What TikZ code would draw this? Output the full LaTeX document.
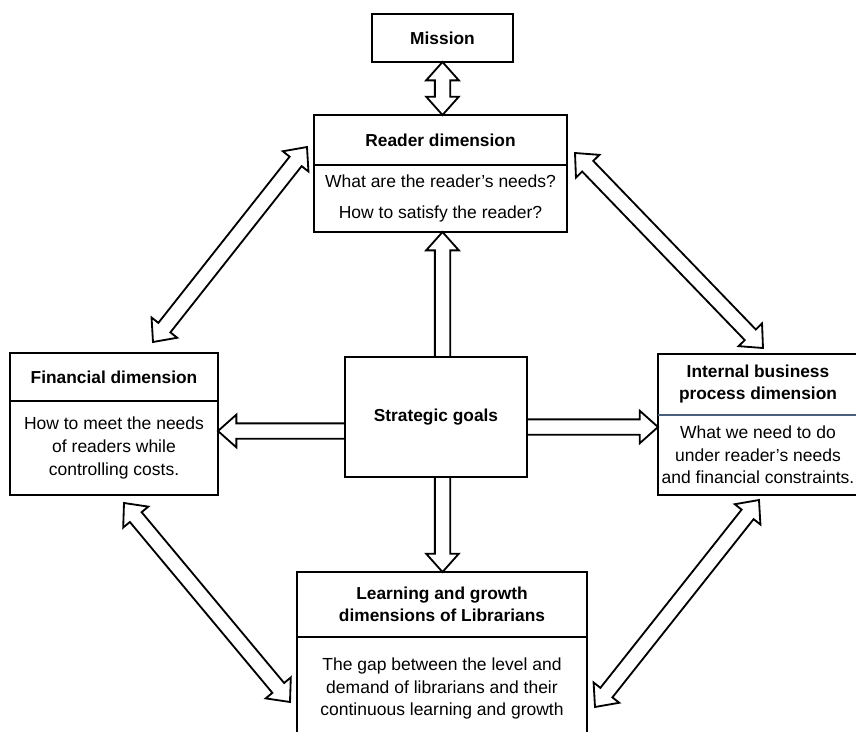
\documentclass[tikz,border=0pt]{standalone}
\usepackage{fontspec}
\setmainfont{Liberation Sans}
\usetikzlibrary{positioning,calc}
\definecolor{divblue}{RGB}{72,96,124}

\begin{document}
\begin{tikzpicture}[x=0.6pt, y=-0.6pt,
  box/.style={draw, line width=1.1pt, inner sep=0pt, outer sep=0pt, align=center,
    font=\fontsize{10.5}{13.6}\selectfont},
  headbox/.style={box, font=\bfseries\fontsize{10.4}{13.2}\selectfont},
  sglarrow/.style={draw, fill=white, line width=1.1pt, line join=miter,
    to path={let \p1=(\tikztostart), \p2=(\tikztotarget),
      \n1={atan2(\y2-\y1,\x2-\x1)}, \n2={veclen(\x2-\x1,\y2-\y1)}, \n3={\n2-11} in
      ([shift={(\p1)},rotate=\n1]0pt,4.6pt)
      -- ([shift={(\p1)},rotate=\n1]\n3*1pt,4.6pt)
      -- ([shift={(\p1)},rotate=\n1]\n3*1pt,9.8pt)
      -- ([shift={(\p1)},rotate=\n1]\n2*1pt,0pt)
      -- ([shift={(\p1)},rotate=\n1]\n3*1pt,-9.8pt)
      -- ([shift={(\p1)},rotate=\n1]\n3*1pt,-4.6pt)
      -- ([shift={(\p1)},rotate=\n1]0pt,-4.6pt) -- cycle}},
  dblarrow/.style={draw, fill=white, line width=1.1pt, line join=miter,
    to path={let \p1=(\tikztostart), \p2=(\tikztotarget),
      \n1={atan2(\y2-\y1,\x2-\x1)}, \n2={veclen(\x2-\x1,\y2-\y1)}, \n3={\n2-11} in
      ([shift={(\p1)},rotate=\n1]0pt,0pt)
      -- ([shift={(\p1)},rotate=\n1]11pt,9.8pt)
      -- ([shift={(\p1)},rotate=\n1]11pt,4.6pt)
      -- ([shift={(\p1)},rotate=\n1]\n3*1pt,4.6pt)
      -- ([shift={(\p1)},rotate=\n1]\n3*1pt,9.8pt)
      -- ([shift={(\p1)},rotate=\n1]\n2*1pt,0pt)
      -- ([shift={(\p1)},rotate=\n1]\n3*1pt,-9.8pt)
      -- ([shift={(\p1)},rotate=\n1]\n3*1pt,-4.6pt)
      -- ([shift={(\p1)},rotate=\n1]11pt,-4.6pt)
      -- ([shift={(\p1)},rotate=\n1]11pt,-9.8pt) -- cycle}}]
\useasboundingbox (0,0) rectangle (856,731);

% mission
\node[headbox, minimum width=84.6pt, minimum height=28.8pt] (miss) at (442.5,38) {Mission};

% reader
\node[headbox, minimum width=151.8pt, minimum height=30pt] (readh) at (440.5,140) {\raisebox{-2.5pt}{Reader dimension}};
\node[box, minimum width=151.8pt, minimum height=40.2pt, below=0pt of readh] (readb)
  {What are the reader’s needs?\\[5.5pt]How to satisfy the reader?};

% strategic goals
\node[headbox, minimum width=109.2pt, minimum height=72pt] (strat) at (436,417) {Strategic goals};

% financial
\node[headbox, minimum width=124.8pt, minimum height=28.8pt] (finh) at (114,377) {Financial dimension};
\node[box, minimum width=124.8pt, minimum height=56.4pt, below=0pt of finh] (finb)
  {How to meet the needs\\of readers while\\controlling costs.};

% internal business process
\node[headbox, minimum width=120pt, minimum height=36.6pt] (inth) at (758,384.5)
  {Internal business\\process dimension};
\node[box, minimum width=120pt, minimum height=48pt, below=0pt of inth] (intb)
  {What we need to do\\under reader’s needs\\and financial constraints.};
\draw[divblue, line width=1.1pt] (inth.south west) -- (inth.south east);

% learning and growth
\node[headbox, minimum width=174pt, minimum height=39pt] (learnh) at (442,604.5)
  {Learning and growth\\dimensions of Librarians};
\node[box, minimum width=174pt, minimum height=61.8pt, below=0pt of learnh] (learnb)
  {The gap between the level and\\demand of librarians and their\\continuous learning and growth};

% arrows from the centre
\draw[dblarrow] (miss.south) to (readh.north -| miss.south);
\draw[sglarrow] (strat.north -| miss.south) to (readb.south -| miss.south);
\draw[sglarrow] (strat.south -| miss.south) to (learnh.north -| miss.south);
\coordinate (la) at ($(strat.west)+(0,14)$);
\coordinate (ra) at ($(strat.east)+(0,10)$);
\draw[sglarrow] (la) to (la -| finb.east);
\draw[sglarrow] (ra) to (ra -| intb.west);

% outer ring
\coordinate (tl1) at (153,342);
\coordinate (tl2) at (307,147);
\coordinate (tr1) at (575,153);
\coordinate (tr2) at (763,348);
\coordinate (bl1) at (124,503);
\coordinate (bl2) at (290,702);
\coordinate (br1) at (759,500);
\coordinate (br2) at (595,707);
\draw[dblarrow] (tl1) to (tl2);
\draw[dblarrow] (tr1) to (tr2);
\draw[dblarrow] (bl1) to (bl2);
\draw[dblarrow] (br1) to (br2);
\end{tikzpicture}
\end{document}
